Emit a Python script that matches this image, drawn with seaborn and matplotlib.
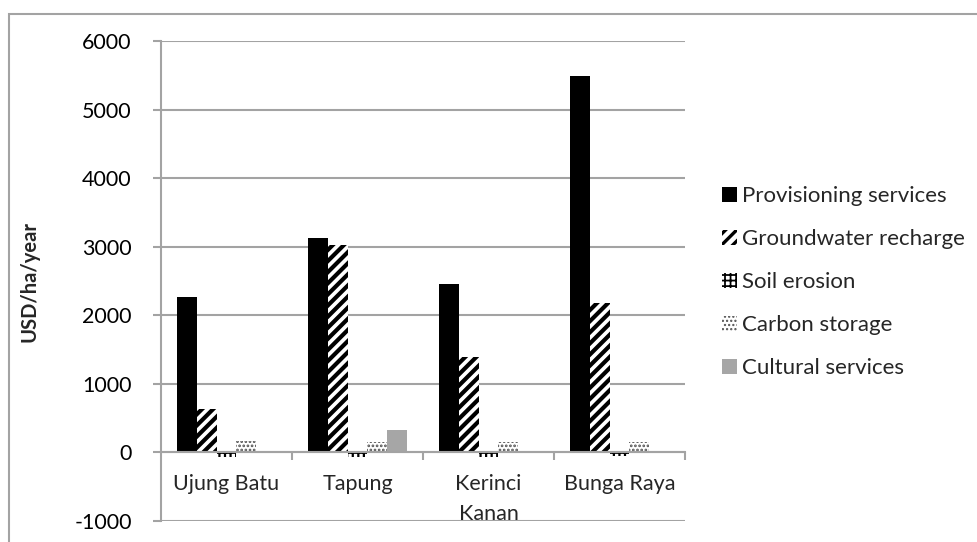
import numpy as np
import pandas as pd
import seaborn as sns
import matplotlib
matplotlib.use("Agg")
import matplotlib.pyplot as plt
from matplotlib.patches import Patch, Rectangle

categories = ["Ujung Batu", "Tapung", "Kerinci\nKanan", "Bunga Raya"]
services = ["Provisioning services", "Groundwater recharge", "Soil erosion",
            "Carbon storage", "Cultural services"]
provisioning = [2270, 3120, 2450, 5490]
groundwater = [640, 3030, 1390, 2180]
soil_erosion = [-60, -60, -60, -50]
carbon_storage = [160, 150, 150, 150]
cultural = [0, 320, 0, 0]
yticks = [-1000, 0, 1000, 2000, 3000, 4000, 5000, 6000]

values = [provisioning, groundwater, soil_erosion, carbon_storage, cultural]
rows = []
for s, vals in zip(services, values):
    for c, v in zip(categories, vals):
        rows.append({"site": c, "service": s, "value": v})
df = pd.DataFrame(rows)

sns.set_theme(style="white")
plt.rcParams["font.family"] = ["Lato", "DejaVu Sans"]
plt.rcParams["hatch.linewidth"] = 3.0

face = {services[0]: "black", services[1]: "white", services[2]: "white",
        services[3]: "white", services[4]: "#a6a6a6"}
hatch_col = {services[0]: "black", services[1]: "black", services[2]: "black",
             services[3]: "#505050", services[4]: "#a6a6a6"}
hatches = {services[0]: "", services[1]: "///", services[2]: "+++",
           services[3]: "....", services[4]: ""}
hatch_lw = {services[0]: 1, services[1]: 3.0, services[2]: 1.6,
            services[3]: 1.3, services[4]: 1}

fig = plt.figure(figsize=(9.77, 5.42), dpi=100)
ax = fig.add_axes([161/977, 1-521/542, (685-161)/977, (521-41)/542])

sns.barplot(data=df, x="site", y="value", hue="service", hue_order=services,
            order=categories, palette=face, width=0.76, errorbar=None,
            ax=ax, legend=False, saturation=1)


def style_patch(p, s):
    p.set_facecolor(face[s])
    p.set_edgecolor(hatch_col[s])
    p.set_linewidth(0)
    p.set_hatch(hatches[s])
    try:
        p.set_hatch_linewidth(hatch_lw[s])
    except Exception:
        pass


for s, cont in zip(services, ax.containers):
    for p in cont.patches:
        style_patch(p, s)

grid_col = "#a3a3a3"
fs = 15.5
ax.set_ylim(-1000, 6000)
ax.set_xlim(-0.5, 3.5)
ax.set_yticks(yticks)
ax.set_yticklabels([str(t) for t in yticks], fontsize=fs)
ax.yaxis.grid(True, color=grid_col, linewidth=1.5, zorder=0)
ax.set_axisbelow(True)
for sp in ["top", "right"]:
    ax.spines[sp].set_visible(False)
ax.spines["left"].set_color(grid_col)
ax.spines["left"].set_linewidth(1.5)
ax.spines["bottom"].set_position(("data", 0))
ax.spines["bottom"].set_color(grid_col)
ax.spines["bottom"].set_linewidth(1.5)
ax.spines["bottom"].set_zorder(5)

ax.set_xticks([0.5, 1.5, 2.5, 3.5])
ax.set_xticklabels([])
ax.tick_params(axis="x", direction="out", length=6, width=1.5, color=grid_col,
               bottom=True)
ax.tick_params(axis="y", direction="out", length=6, width=1.5, color=grid_col,
               left=True, pad=15, labelcolor="black")
ax.set_xlabel("")

for i, c in enumerate(categories):
    ax.text(i, -310, c, ha="center", va="top", fontsize=fs,
            linespacing=1.65)

ax.set_ylabel("USD/ha/year", fontsize=14.5, fontweight="bold")
ax.yaxis.label.set_va("center")
ax.yaxis.set_label_coords(-0.25, 0.5)

handles = []
for s in services:
    h = Patch(facecolor=face[s], edgecolor=hatch_col[s], hatch=hatches[s],
              linewidth=0)
    handles.append(h)
leg = fig.legend(handles=handles, labels=services, loc="upper left",
                 bbox_to_anchor=(722/977, 1-186.5/542), frameon=False,
                 fontsize=16, handlelength=0.68, handleheight=0.68,
                 handletextpad=0.22, labelspacing=1.03, borderpad=0,
                 borderaxespad=0)
for h, s in zip(leg.legend_handles, services):
    try:
        h.set_hatch_linewidth(hatch_lw[s] * 0.8)
    except Exception:
        pass

fig.add_artist(Rectangle((9/977, -0.1), 2, 1.1 - 14/542,
                         transform=fig.transFigure, fill=False,
                         edgecolor=grid_col, linewidth=1.5))

fig.savefig("out.png", dpi=100)
